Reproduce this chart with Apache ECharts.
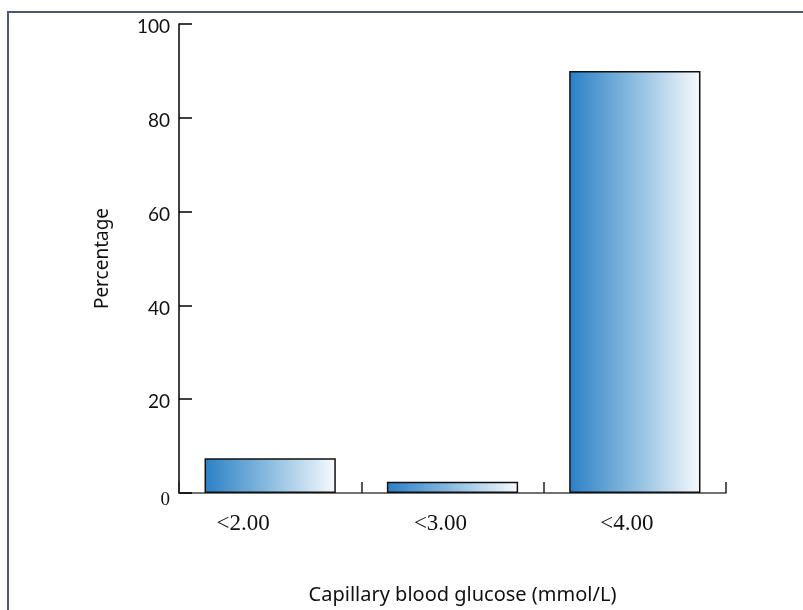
<!DOCTYPE html>
<html>
<head>
<meta charset="utf-8">
<script src="https://cdn.jsdelivr.net/npm/echarts@6/dist/echarts.min.js"></script>
<style>
html,body{margin:0;padding:0;background:#fff;}
#chart{width:803px;height:610px;}
</style>
</head>
<body>
<div id="chart"></div>
<script>
var categories = ['<2.00', '<3.00', '<4.00'];
var percentages = [7.4, 2.4, 90.0];
var yTicks = [0, 20, 40, 60, 80, 100];
var labelShift = [54, 24, 16];

var chart = echarts.init(document.getElementById('chart'));
var grad = new echarts.graphic.LinearGradient(0, 0, 1, 0, [
  {offset: 0, color: '#2a80c6'},
  {offset: 0.5, color: '#8dbde0'},
  {offset: 1, color: '#f7fafd'}
]);
chart.setOption({
  animation: false,
  grid: {left: 179, right: 77, top: 24, bottom: 116, containLabel: false},
  graphic: [{
    type: 'rect', shape: {x: 8, y: 12, width: 820, height: 640},
    style: {fill: 'none', stroke: '#4a5878', lineWidth: 2}, silent: true
  }],
  xAxis: {
    type: 'category',
    data: categories.map(function (c, i) {
      return {value: c, textStyle: {padding: [0, labelShift[i], 0, 0]}};
    }),
    name: 'Capillary blood glucose (mmol/L)',
    nameLocation: 'middle',
    nameGap: 92,
    nameTextStyle: {fontFamily: 'Noto Sans', fontSize: 20, color: '#111', padding: [0, 0, 0, 20]},
    axisLine: {show: true, lineStyle: {color: '#444', width: 1.5}},
    axisTick: {show: true, inside: true, alignWithLabel: false, interval: 0, length: 11, lineStyle: {color: '#222', width: 1.5}},
    axisLabel: {fontFamily: 'Liberation Serif', fontSize: 23, color: '#111', margin: 19},
    splitLine: {show: false}
  },
  yAxis: {
    type: 'value',
    min: yTicks[0], max: yTicks[yTicks.length - 1], interval: 20,
    name: 'Percentage',
    nameLocation: 'middle',
    nameGap: 67,
    nameTextStyle: {fontFamily: 'Noto Sans', fontSize: 19, color: '#111'},
    axisLine: {show: true, lineStyle: {color: '#000', width: 1.5}},
    axisTick: {show: true, inside: true, length: 13, lineStyle: {color: '#000', width: 1.5}},
    axisLabel: {
      margin: 9,
      formatter: function (v) { return v === 0 ? '{s|0}' : '{n|' + v + '}'; },
      rich: {
        n: {fontFamily: 'Lato', fontSize: 19, color: '#111', padding: [6, 0, 0, 0]},
        s: {fontFamily: 'Liberation Serif', fontSize: 19, color: '#111', padding: [14, 0, 0, 0]}
      }
    },
    splitLine: {show: false}
  },
  series: [{
    type: 'bar',
    data: percentages,
    barCategoryGap: '28%',
    itemStyle: {color: grad, borderColor: '#111', borderWidth: 1.5}
  }]
});
</script>
</body>
</html>
